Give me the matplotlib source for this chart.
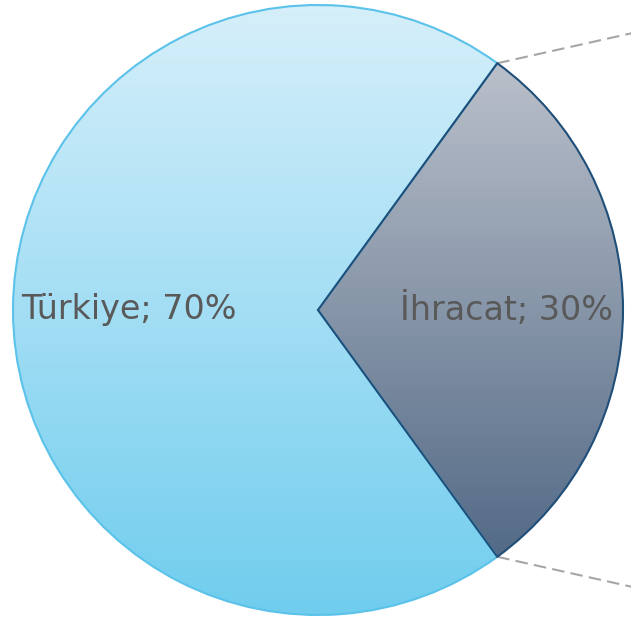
import numpy as np
import matplotlib
matplotlib.use('Agg')
import matplotlib.pyplot as plt
from matplotlib.colors import LinearSegmentedColormap

# --- data ---
labels = ['İhracat', 'Türkiye']
shares = [30, 70]

# --- figure in pixel-ish coordinates ---
W, H = 631, 618
fig = plt.figure(figsize=(W / 100, H / 100), dpi=100)
ax = fig.add_axes([0, 0, 1, 1])

cx, cy, r = 318, H - 310, 305
start = -shares[0] / 100 * 360 / 2

wedges, _ = ax.pie(shares, center=(cx, cy), radius=r, startangle=start,
                   counterclock=True, frame=True)
ax.set_aspect('equal')
ax.axis('off')

# gradient top colour, bottom colour, edge colour, zorder
grads = [('#BAC0CA', '#536A86', '#1F4E79', 5),
         ('#D6EFFA', '#70CDEE', '#5BC2EA', 4)]
for w, (top, bot, edge, z) in zip(wedges, grads):
    w.set_facecolor('none')
    w.set_edgecolor(edge)
    w.set_linewidth(1.5)
    w.set_zorder(z)
    bb = w.get_path().get_extents(w.get_transform() - ax.transData)
    cmap = LinearSegmentedColormap.from_list('g', [bot, top])
    grad = np.linspace(0, 1, 256).reshape(-1, 1)
    im = ax.imshow(grad, cmap=cmap, origin='lower', aspect='auto',
                   extent=(bb.x0, bb.x1, bb.y0, bb.y1), zorder=2)
    im.set_clip_path(w)

ax.set_xlim(0, W)
ax.set_ylim(0, H)

# connector lines (pie-of-pie style)
ang = np.deg2rad(shares[0] / 100 * 360 / 2)
px, py = cx + r * np.cos(ang), r * np.sin(ang)
ax.plot([px, W + 5], [cy + py, cy + py + 31], ls=(0, (6, 3)), color='#A6A6A6',
        lw=1.5, zorder=1, clip_on=False)
ax.plot([px, W + 5], [cy - py, cy - py - 31], ls=(0, (6, 3)), color='#A6A6A6',
        lw=1.5, zorder=1, clip_on=False)

# labels
for w, lab, s in zip(wedges, labels, shares):
    if lab == 'Türkiye':
        x = 128.5
    else:
        x = 506.5
    ax.text(x, cy + 1, f'{lab}; {s}%', ha='center', va='center',
            fontsize=24, color='#595959', zorder=6)

fig.savefig('out.png', dpi=100)
